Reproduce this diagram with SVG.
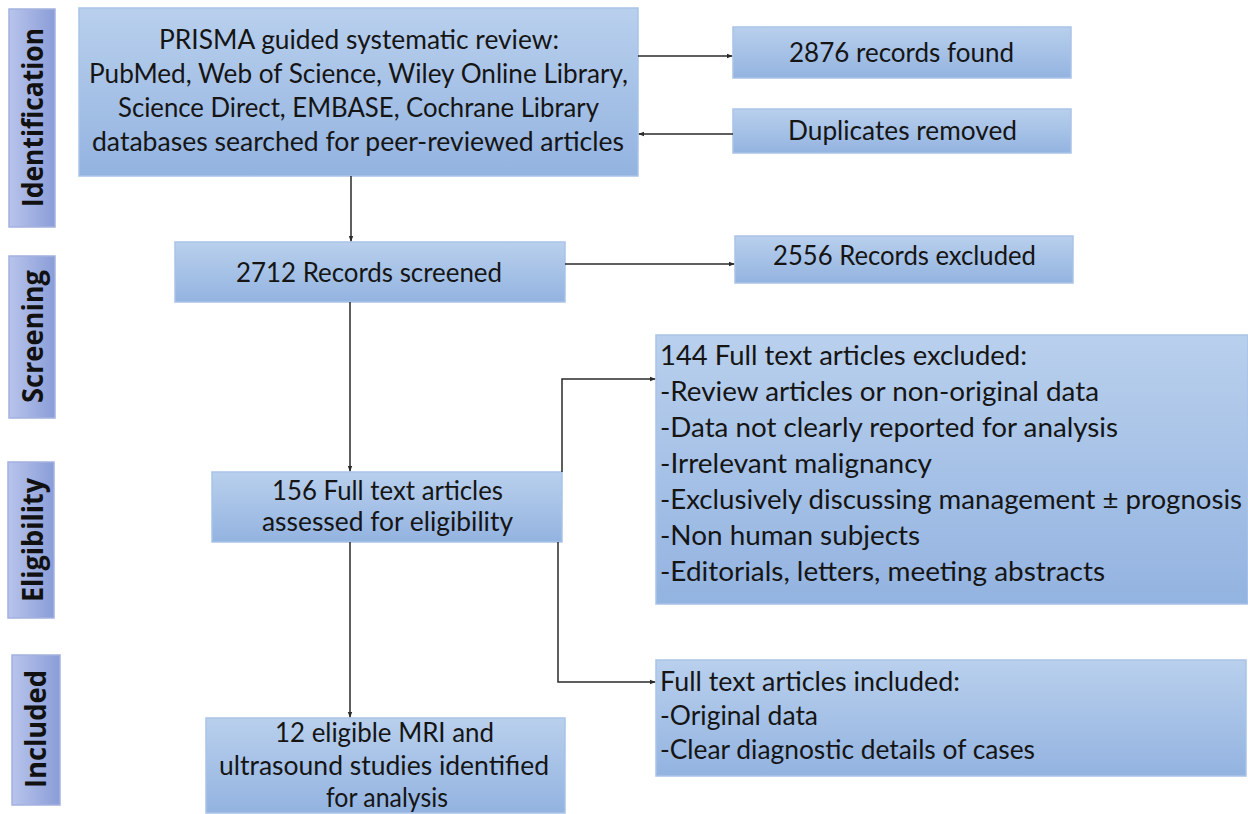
<svg xmlns="http://www.w3.org/2000/svg" width="1248" height="814" viewBox="0 0 1248 814">
<defs>
<linearGradient id="gBox" x1="0" y1="0" x2="0" y2="1">
<stop offset="0" stop-color="#b9d0ed"/>
<stop offset="1" stop-color="#93b3e0"/>
</linearGradient>
<linearGradient id="gStage" x1="0" y1="0" x2="1" y2="0">
<stop offset="0" stop-color="#b8c4ec"/>
<stop offset="1" stop-color="#8a9dd7"/>
</linearGradient>
<marker id="arr" viewBox="0 0 8 8" refX="7" refY="4" markerWidth="6" markerHeight="6" markerUnits="userSpaceOnUse" orient="auto">
<path d="M0,1 L8,4 L0,7 z" fill="#2a2a2a"/>
</marker>
</defs>
<style>
.box{fill:url(#gBox);stroke:#a9c3e8;stroke-width:1.5}
.stage{fill:url(#gStage);stroke:#a3b1e0;stroke-width:1.5}
.t{font-family:Lato,"Liberation Sans",sans-serif;font-size:26px;fill:#151515}
.s{font-family:"Open Sans","DejaVu Sans",sans-serif;font-size:28px;font-weight:bold;fill:#111}
.c{fill:none;stroke:#2a2a2a;stroke-width:1.5;marker-end:url(#arr)}
</style>
<rect width="1248" height="814" fill="#ffffff"/>

<g id="stage-identification">
<rect class="stage" x="9" y="9" width="46" height="218"/>
<text class="s" transform="translate(43,117.5) rotate(-90)" text-anchor="middle" textLength="179" lengthAdjust="spacingAndGlyphs">Identification</text>
</g>
<g id="stage-screening">
<rect class="stage" x="9" y="256" width="46" height="162"/>
<text class="s" transform="translate(43,336.5) rotate(-90)" text-anchor="middle" textLength="133" lengthAdjust="spacingAndGlyphs">Screening</text>
</g>
<g id="stage-eligibility">
<rect class="stage" x="8" y="462" width="46" height="156"/>
<text class="s" transform="translate(43,540) rotate(-90)" text-anchor="middle" textLength="124" lengthAdjust="spacingAndGlyphs">Eligibility</text>
</g>
<g id="stage-included">
<rect class="stage" x="12" y="655" width="48" height="150"/>
<text class="s" transform="translate(46,729) rotate(-90)" text-anchor="middle" textLength="118" lengthAdjust="spacingAndGlyphs">Included</text>
</g>

<g id="search">
<rect class="box" x="79" y="8" width="559" height="168"/>
<text class="t" x="159" y="49" textLength="400" lengthAdjust="spacingAndGlyphs">PRISMA guided systematic review:</text>
<text class="t" x="89" y="83" textLength="539" lengthAdjust="spacingAndGlyphs">PubMed, Web of Science, Wiley Online Library,</text>
<text class="t" x="118" y="117" textLength="481" lengthAdjust="spacingAndGlyphs">Science Direct, EMBASE, Cochrane Library</text>
<text class="t" x="92" y="151" textLength="532" lengthAdjust="spacingAndGlyphs">databases searched for peer-reviewed articles</text>
</g>
<g id="found">
<rect class="box" x="733" y="27" width="338" height="51"/>
<text class="t" x="789" y="62" textLength="225" lengthAdjust="spacingAndGlyphs">2876 records found</text>
</g>
<g id="duplicates">
<rect class="box" x="733" y="109" width="338" height="44"/>
<text class="t" x="788" y="140" textLength="229" lengthAdjust="spacingAndGlyphs">Duplicates removed</text>
</g>
<g id="screened">
<rect class="box" x="175" y="242" width="390" height="60"/>
<text class="t" x="236" y="282" textLength="266" lengthAdjust="spacingAndGlyphs">2712 Records screened</text>
</g>
<g id="excluded-records">
<rect class="box" x="735" y="236" width="338" height="47"/>
<text class="t" x="773" y="265" textLength="263" lengthAdjust="spacingAndGlyphs">2556 Records excluded</text>
</g>
<g id="fulltext">
<rect class="box" x="212" y="472" width="350" height="70"/>
<text class="t" x="272" y="500" textLength="231" lengthAdjust="spacingAndGlyphs">156 Full text articles</text>
<text class="t" x="262" y="531" textLength="251" lengthAdjust="spacingAndGlyphs">assessed for eligibility</text>
</g>
<g id="excluded-fulltext">
<rect class="box" x="656" y="335" width="592" height="269"/>
<text class="t" x="660" y="365" textLength="367" lengthAdjust="spacingAndGlyphs">144 Full text articles excluded:</text>
<text class="t" x="660" y="401" textLength="439" lengthAdjust="spacingAndGlyphs">-Review articles or non-original data</text>
<text class="t" x="660" y="437" textLength="458" lengthAdjust="spacingAndGlyphs">-Data not clearly reported for analysis</text>
<text class="t" x="660" y="473" textLength="272" lengthAdjust="spacingAndGlyphs">-Irrelevant malignancy</text>
<text class="t" x="660" y="509" textLength="582" lengthAdjust="spacingAndGlyphs">-Exclusively discussing management ± prognosis</text>
<text class="t" x="660" y="545" textLength="260" lengthAdjust="spacingAndGlyphs">-Non human subjects</text>
<text class="t" x="660" y="581" textLength="445" lengthAdjust="spacingAndGlyphs">-Editorials, letters, meeting abstracts</text>
</g>
<g id="included-fulltext">
<rect class="box" x="656" y="660" width="590" height="116"/>
<text class="t" x="660" y="691" textLength="300" lengthAdjust="spacingAndGlyphs">Full text articles included:</text>
<text class="t" x="660" y="725" textLength="158" lengthAdjust="spacingAndGlyphs">-Original data</text>
<text class="t" x="660" y="759" textLength="375" lengthAdjust="spacingAndGlyphs">-Clear diagnostic details of cases</text>
</g>
<g id="eligible">
<rect class="box" x="206" y="718" width="359" height="95"/>
<text class="t" x="275" y="742" textLength="219" lengthAdjust="spacingAndGlyphs">12 eligible MRI and</text>
<text class="t" x="219" y="775" textLength="330" lengthAdjust="spacingAndGlyphs">ultrasound studies identified</text>
<text class="t" x="326" y="807" textLength="122" lengthAdjust="spacingAndGlyphs">for analysis</text>
</g>

<g id="connectors">
<path class="c" d="M638,56 H732"/>
<path class="c" d="M733,134 H639"/>
<path class="c" d="M351,176 V241"/>
<path class="c" d="M565,264 H734"/>
<path class="c" d="M350,302 V471"/>
<path class="c" d="M562,472 V379 H655"/>
<path class="c" d="M558,542 V682 H655"/>
<path class="c" d="M350,542 V717"/>
</g>
</svg>
